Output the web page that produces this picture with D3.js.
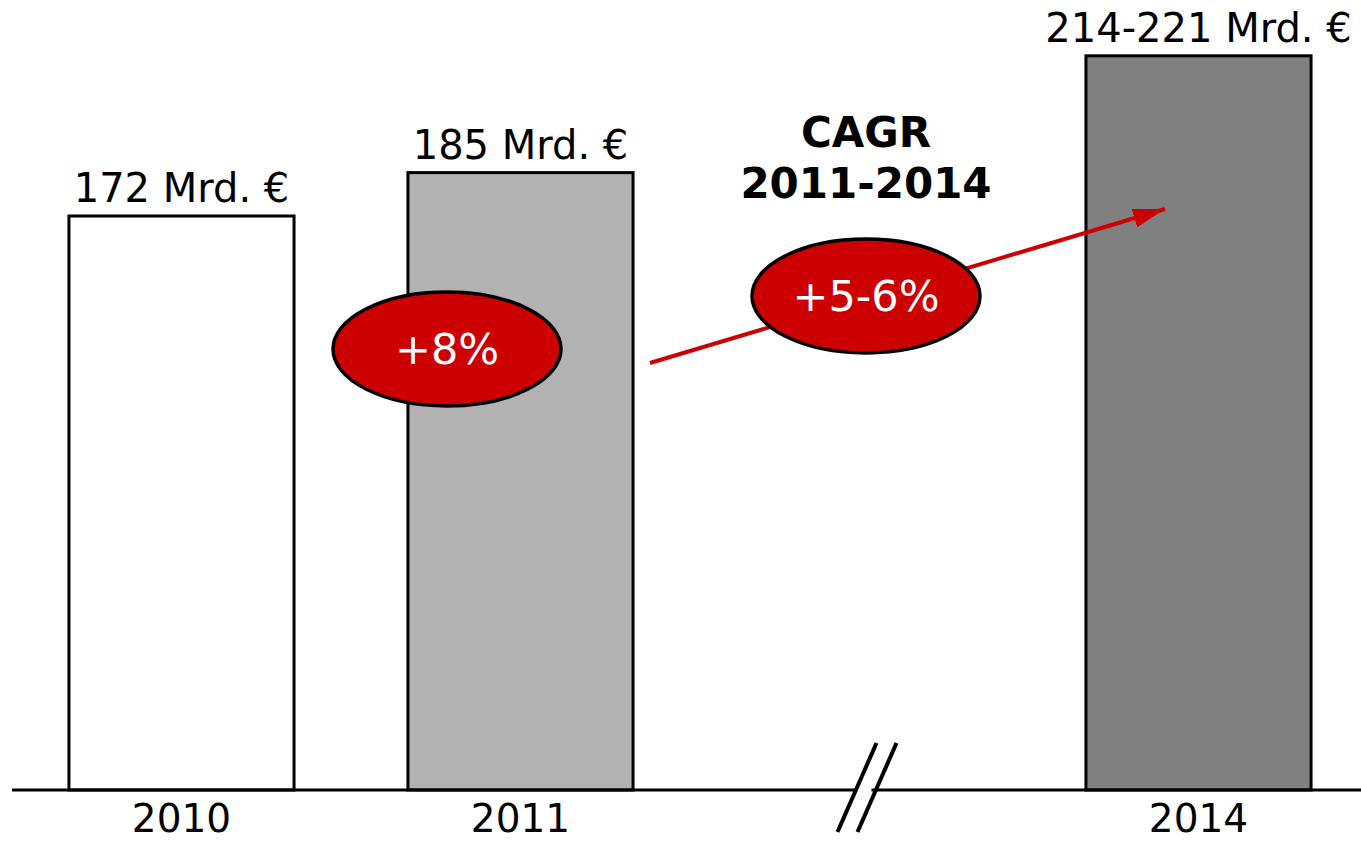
<!DOCTYPE html>
<html>
<head>
<meta charset="utf-8">
<script src="https://cdn.jsdelivr.net/npm/d3@7"></script>
<style>
  body { margin: 0; background: #fff; overflow: hidden; }
  text { font-family: "DejaVu Sans", Verdana, sans-serif; }
</style>
</head>
<body>
<div id="chart"></div>
<script>
// data
var years = ["2010", "2011", "gap", "2014"];
var values = [172, 185, null, 220];
var valueLabels = ["172 Mrd. €", "185 Mrd. €", "", "214-221 Mrd. €"];
var barColors = ["#ffffff", "#b2b2b2", null, "#808080"];
var growthLabels = ["+8%", "+5-6%"];
var cagrTitle = ["CAGR", "2011-2014"];

var width = 1361, height = 842;
var baseY = 790;

var svg = d3.select("#chart").append("svg")
    .attr("width", width)
    .attr("height", height);

var x = d3.scaleBand()
    .domain(years)
    .range([12, 1368])
    .paddingInner(0.336)
    .paddingOuter(0.168);

var y = d3.scaleLinear()
    .domain([0, 172])
    .range([baseY, 216]);

var red = "#cc0000";

svg.append("defs").append("marker")
    .attr("id", "arrowhead")
    .attr("viewBox", "0 0 10 6")
    .attr("refX", 10)
    .attr("refY", 3)
    .attr("markerWidth", 8)
    .attr("markerHeight", 4.8)
    .attr("markerUnits", "strokeWidth")
    .attr("orient", "auto")
  .append("path")
    .attr("d", "M0,0 L10,3 L0,6 z")
    .attr("fill", red);

var barData = years.map(function(d, i) {
    return {year: d, value: values[i], label: valueLabels[i], color: barColors[i]};
}).filter(function(d) { return d.value !== null; });

// bars
svg.selectAll("rect.bar")
    .data(barData)
  .enter().append("rect")
    .attr("class", "bar")
    .attr("x", function(d) { return x(d.year); })
    .attr("y", function(d) { return y(d.value); })
    .attr("width", x.bandwidth())
    .attr("height", function(d) { return baseY - y(d.value); })
    .attr("fill", function(d) { return d.color; })
    .attr("stroke", "#000")
    .attr("stroke-width", 3);

// value labels
svg.selectAll("text.val")
    .data(barData)
  .enter().append("text")
    .attr("class", "val")
    .attr("x", function(d) { return x(d.year) + x.bandwidth() / 2; })
    .attr("y", function(d) { return y(d.value) - 14; })
    .attr("text-anchor", "middle")
    .style("font-size", "40px")
    .attr("fill", "#000")
    .text(function(d) { return d.label; });

// baseline (with gap at the break)
var breakX = x("gap") + x.bandwidth() / 2;
svg.append("line")
    .attr("x1", 12).attr("x2", width)
    .attr("y1", baseY).attr("y2", baseY)
    .attr("stroke", "#000")
    .attr("stroke-width", 3);

// white gap between the break slashes
svg.append("rect")
    .attr("x", breakX - 2)
    .attr("y", baseY - 4)
    .attr("width", 14)
    .attr("height", 8)
    .attr("fill", "#fff");

[-8, 12].forEach(function(off) {
    svg.append("line")
        .attr("x1", breakX + off - 14).attr("y1", 832)
        .attr("x2", breakX + off + 25).attr("y2", 743)
        .attr("stroke", "#000")
        .attr("stroke-width", 4);
});

// year labels
svg.selectAll("text.year")
    .data(barData)
  .enter().append("text")
    .attr("class", "year")
    .attr("x", function(d) { return x(d.year) + x.bandwidth() / 2; })
    .attr("y", 832)
    .attr("text-anchor", "middle")
    .style("font-size", "39px")
    .attr("fill", "#000")
    .text(function(d) { return d.year; });

// CAGR title
svg.append("text")
    .attr("x", 866)
    .attr("y", 147)
    .attr("text-anchor", "middle")
    .style("font-size", "42px")
    .style("font-weight", "bold")
    .text(cagrTitle[0]);
svg.append("text")
    .attr("x", 866)
    .attr("y", 198)
    .attr("text-anchor", "middle")
    .style("font-size", "42px")
    .style("font-weight", "bold")
    .text(cagrTitle[1]);

// trend arrow
svg.append("line")
    .attr("x1", 650).attr("y1", 363)
    .attr("x2", 1165).attr("y2", 209)
    .attr("stroke", red)
    .attr("stroke-width", 4)
    .attr("marker-end", "url(#arrowhead)");

// growth bubbles
var bubbles = [
    {cx: 447, cy: 349, label: growthLabels[0]},
    {cx: 866, cy: 296, label: growthLabels[1]}
];
var b = svg.selectAll("g.bubble")
    .data(bubbles)
  .enter().append("g")
    .attr("class", "bubble")
    .attr("transform", function(d) { return "translate(" + d.cx + "," + d.cy + ")"; });
b.append("ellipse")
    .attr("rx", 114)
    .attr("ry", 57)
    .attr("fill", red)
    .attr("stroke", "#000")
    .attr("stroke-width", 3.5);
b.append("text")
    .attr("y", 15)
    .attr("text-anchor", "middle")
    .style("font-size", "43px")
    .attr("fill", "#fff")
    .text(function(d) { return d.label; });
</script>
</body>
</html>
